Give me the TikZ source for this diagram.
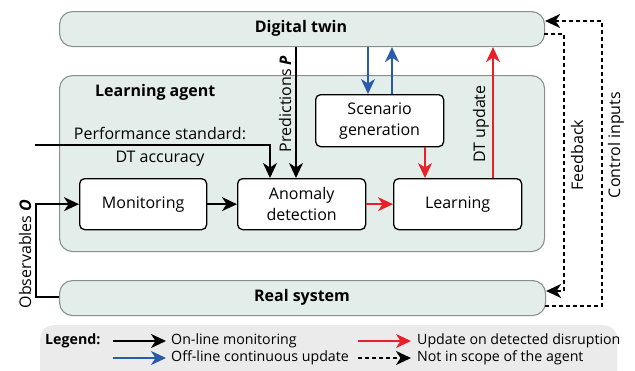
\documentclass[tikz,border=0pt]{standalone}
\usepackage{fontspec}
\setmainfont{Open Sans}
\usetikzlibrary{arrows.meta,calc}
\definecolor{panel}{HTML}{E3EEEA}
\definecolor{panelline}{HTML}{8A8F8D}
\definecolor{legbg}{HTML}{EBEBEB}
\definecolor{myred}{HTML}{E8202A}
\definecolor{myblue}{HTML}{2A5BA8}
\tikzset{
  panelbox/.style={draw=panelline, line width=1.1pt, fill=panel, rounded corners=13pt},
  stepbox/.style={draw=black, line width=1.3pt, fill=white, rounded corners=5pt, align=center, inner sep=0pt},
  arr/.style={line width=1.8pt, -{Stealth[length=15pt,width=14pt,inset=4.5pt]}},
  redarr/.style={arr, draw=myred, -{Stealth[length=15pt,width=14pt,inset=4.5pt,fill=myred]}},
  bluearr/.style={arr, draw=myblue, -{Stealth[length=15pt,width=14pt,inset=4.5pt,fill=myblue]}},
  dasharr/.style={line width=1.6pt, dash pattern=on 4pt off 3pt, -{Stealth[length=15pt,width=14pt,inset=4.5pt]}},
  txt/.style={font=\fontsize{16}{21}\selectfont, inner sep=0pt},
  ttl/.style={font=\fontsize{16}{19}\selectfont\bfseries, inner sep=0pt},
  legtxt/.style={font=\fontsize{14.2}{16}\selectfont, inner sep=0pt, anchor=west},
}
\begin{document}
\begin{tikzpicture}[x=1pt,y=-1pt]
\useasboundingbox (0,0) rectangle (635,370);
% panels
\node[panelbox, minimum width=485pt, minimum height=35pt, anchor=north west, inner sep=0pt] (DT) at (59,11) {};
\node[panelbox, minimum width=485pt, minimum height=176pt, anchor=north west, inner sep=0pt] (LA) at (59,75) {};
\node[panelbox, minimum width=486pt, minimum height=35pt, anchor=north west, inner sep=0pt] (RS) at (59,280) {};
\node[fill=legbg, rounded corners=13pt, minimum width=577pt, minimum height=60pt, anchor=north west, inner sep=0pt] (LEG) at (40,325) {};
\node[ttl] (dtl) at (301,28) {Digital twin};
\node[ttl, anchor=west] (lal) at (95,92) {Learning agent};
\node[ttl] (rsl) at (302,297) {Real system};
% step boxes
\node[stepbox, minimum width=127pt, minimum height=51pt, anchor=north west, txt] (mon) at (79,178) {Monitoring};
\node[stepbox, minimum width=128pt, minimum height=51pt, anchor=north west, txt] (anom) at (237,178) {Anomaly\\detection};
\node[stepbox, minimum width=128pt, minimum height=51pt, anchor=north west, txt] (learn) at (393,178) {Learning};
\node[stepbox, minimum width=128pt, minimum height=52pt, anchor=north west, txt] (scen) at (315,94) {Scenario\\generation};
% helper coordinates
\coordinate (xp) at (296,0);
\coordinate (xs) at (270,0);
\coordinate (ps) at (35,145);
\coordinate (xb1) at (368,0);
\coordinate (xb2) at (392,0);
\coordinate (xr1) at (425,0);
\coordinate (xr2) at (493,0);
\coordinate (obs) at (36,297);
\coordinate (fb1) at (544,34);
\coordinate (fb2) at (564,291);
\coordinate (ci1) at (545,306);
\coordinate (ci2) at (602,21);
% connectors
\draw[arr] (DT.south -| xp) -- (anom.north -| xp);
\draw[arr] (ps) -| (anom.north -| xs);
\draw[arr] (mon.east) -- (anom.west);
\draw[redarr] (anom.east) -- (learn.west);
\draw[bluearr] (DT.south -| xb1) -- (scen.north -| xb1);
\draw[bluearr] (scen.north -| xb2) -- (DT.south -| xb2);
\draw[redarr] (scen.south -| xr1) -- (learn.north -| xr1);
\draw[redarr] (learn.north -| xr2) -- (DT.south -| xr2);
\draw[arr] (RS.west |- obs) -- (obs) |- (mon.west);
\draw[dasharr] (fb1) -| (fb2) -- (RS.east |- fb2);
\draw[dasharr] (ci1) -| (ci2) -- (DT.east |- ci2);
% labels
\node[txt] (psl) at (160,133) {Performance standard:};
\node[txt] (dta) at (160,159) {DT accuracy};
\node[txt, rotate=90] (pred) at (285,104) {Predictions \textbf{\textit{P}}};
\node[txt, rotate=90] (dtu) at (481,124) {DT update};
\node[txt, rotate=90] (fbl) at (577,155) {Feedback};
\node[txt, rotate=90] (cil) at (616,145) {Control inputs};
\node[txt, rotate=90] (obl) at (25,254) {Observables \textbf{\textit{O}}};
% legend
\node[ttl, font=\fontsize{14.2}{16}\selectfont\bfseries, anchor=west] (legl) at (45,341) {Legend:};
\coordinate (l1a) at (113,341); \coordinate (l1b) at (166,341);
\coordinate (l2a) at (113,358); \coordinate (l2b) at (166,358);
\coordinate (l3a) at (358,341); \coordinate (l3b) at (411,341);
\coordinate (l4a) at (358,358); \coordinate (l4b) at (411,358);
\draw[arr] (l1a) -- (l1b);
\draw[bluearr] (l2a) -- (l2b);
\draw[redarr] (l3a) -- (l3b);
\draw[dasharr] (l4a) -- (l4b);
\node[legtxt] (t1) at (171,341) {On-line monitoring};
\node[legtxt] (t2) at (171,358) {Off-line continuous update};
\node[legtxt] (t3) at (417,341) {Update on detected disruption};
\node[legtxt] (t4) at (417,358) {Not in scope of the agent};
\end{tikzpicture}
\end{document}
